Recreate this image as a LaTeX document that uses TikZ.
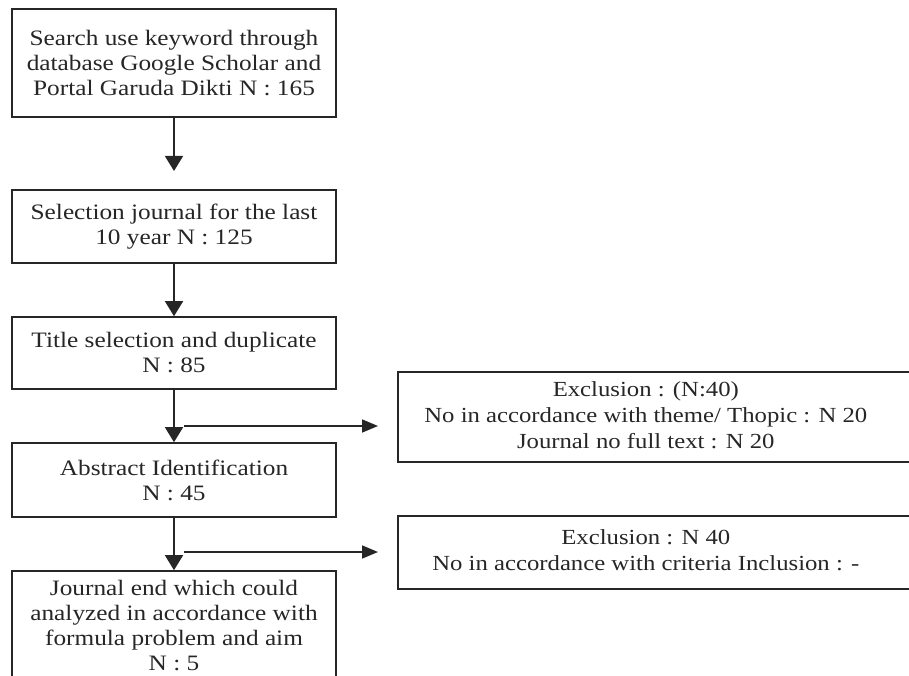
\documentclass[tikz,border=0pt]{standalone}
\usepackage{fontspec}
\setmainfont{Liberation Serif}[FakeStretch=1.15]
\usetikzlibrary{arrows.meta}
\definecolor{ink}{gray}{0.15}
\tikzset{
  x=1pt, y=-1pt,
  mainbox/.style={draw=ink, line width=1.6pt, text=ink, align=center, inner sep=0pt,
    minimum width=324pt, font=\fontsize{22}{25}\selectfont},
  exbox/.style={draw=ink, line width=1.6pt, text=ink, align=center, inner sep=0pt,
    anchor=west, minimum width=560pt, font=\fontsize{21.5}{26}\selectfont},
  flow/.style={draw=ink, line width=1.6pt, -{Triangle[width=18pt,length=15pt]}},
  side/.style={draw=ink, line width=1.6pt, -{Triangle[width=13pt,length=16pt]}},
}
\begin{document}
\begin{tikzpicture}
\useasboundingbox (0,0) rectangle (909,676);
\clip (0,0) rectangle (909,676);
\fill[white] (0,0) rectangle (909,676);
\node[mainbox, minimum height=108pt] (b1) at (174,63) {Search use keyword through\\database Google Scholar and\\Portal Garuda Dikti N : 165};
\node[mainbox, minimum height=73pt] (b2) at (174,226.5) {Selection journal for the last\\10 year N : 125};
\node[mainbox, minimum height=72pt] (b3) at (174,353) {Title selection and duplicate\\N : 85};
\node[mainbox, minimum height=74pt] (b4) at (174,480) {Abstract Identification\\N : 45};
\node[mainbox, minimum height=110pt] (b5) at (174,626) {Journal end which could\\analyzed in accordance with\\formula problem and aim\\N : 5};
\node[exbox, minimum height=90pt] (e1) at (397,417) {\begin{tabular}{@{}c@{}}Exclusion : (N:40)\\No in accordance with theme/ Thopic : N 20\\Journal no full text : N 20\end{tabular}\hspace{64pt}};
\node[exbox, minimum height=73pt] (e2) at (397,552.5) {\begin{tabular}{@{}c@{}}Exclusion : N 40\\No in accordance with criteria Inclusion : -\end{tabular}\hspace{64pt}};
\coordinate (t1) at (174,171);
\coordinate (s1) at (184,426);
\coordinate (s1e) at (378,426);
\coordinate (s2) at (184,552);
\coordinate (s2e) at (378,552);
\draw[flow] (b1.south) -- (t1);
\draw[flow] (b2.south) -- (b3.north);
\draw[flow] (b3.south) -- (b4.north);
\draw[flow] (b4.south) -- (b5.north);
\draw[side] (s1) -- (s1e);
\draw[side] (s2) -- (s2e);
\end{tikzpicture}
\end{document}
